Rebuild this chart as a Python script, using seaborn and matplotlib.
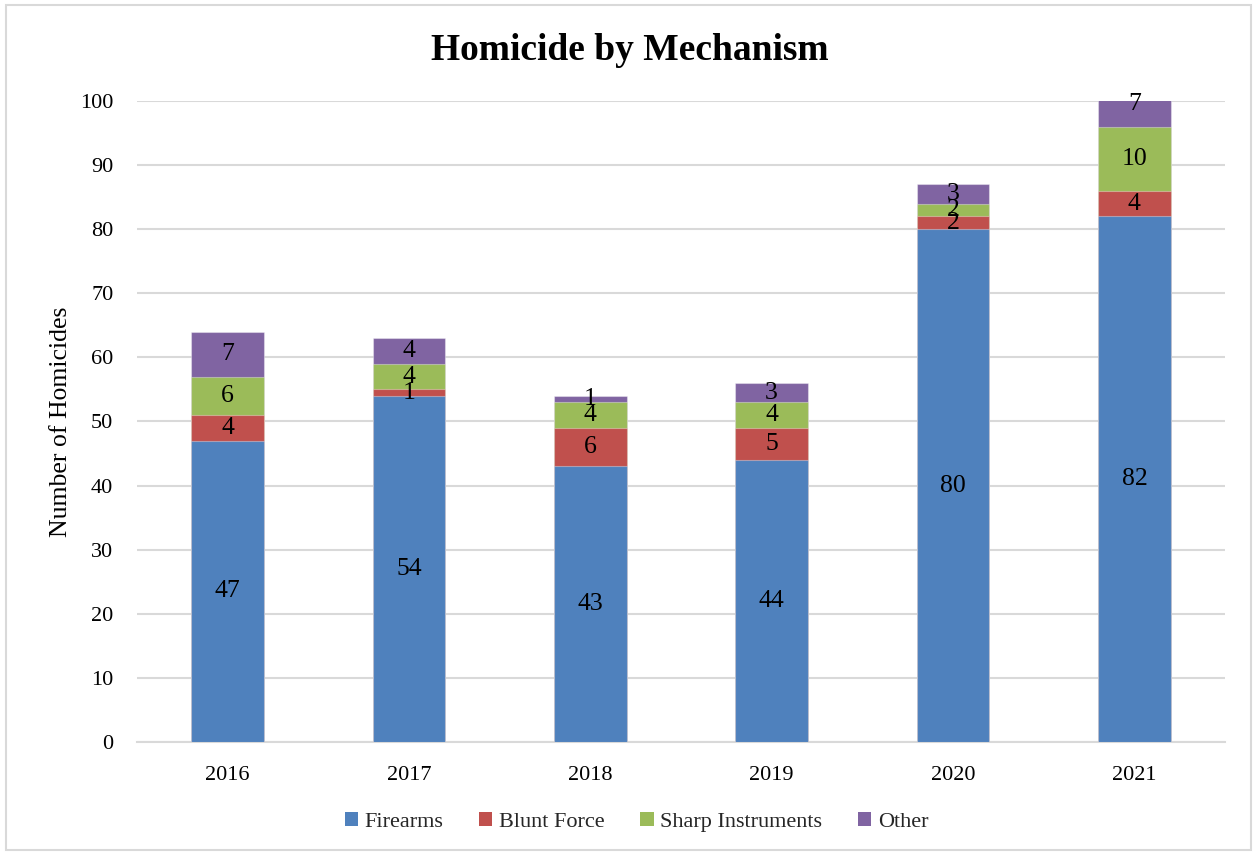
import numpy as np
import pandas as pd
import matplotlib
matplotlib.use("Agg")
import matplotlib.pyplot as plt
from matplotlib.patches import Rectangle, Patch
import seaborn as sns

years = ["2016", "2017", "2018", "2019", "2020", "2021"]
firearms = [47, 54, 43, 44, 80, 82]
blunt_force = [4, 1, 6, 5, 2, 4]
sharp_instruments = [6, 4, 4, 4, 2, 10]
other = [7, 4, 1, 3, 3, 7]

mechanisms = ["Firearms", "Blunt Force", "Sharp Instruments", "Other"]
colors = ["#4F81BD", "#C0504D", "#9BBB59", "#8064A2"]

sns.set_theme(style="white")
plt.rcParams["font.family"] = ["Liberation Serif", "DejaVu Serif"]

series = [firearms, blunt_force, sharp_instruments, other]
df = pd.DataFrame({"Year": years})
for name, vals in zip(mechanisms, series):
    df[name] = vals
cum = df[mechanisms].cumsum(axis=1)

fig = plt.figure(figsize=(12.53, 8.56), dpi=100)
ax = fig.add_axes([0.1093, 0.1332, 0.8684, 0.7488])

# stacked bars: draw the cumulative totals from the top layer down
for name, color in reversed(list(zip(mechanisms, colors))):
    sns.barplot(data=pd.DataFrame({"Year": years, "v": cum[name]}), x="Year", y="v",
                color=color, width=0.4, saturation=1, ax=ax, zorder=3,
                edgecolor=(1, 1, 1, 0.35), linewidth=0.8)

# value labels centred in each segment
for i in range(len(years)):
    base = 0
    for name in mechanisms:
        v = df.loc[i, name]
        ax.text(i, base + v / 2, str(v), ha="center", va="center",
                fontsize=18.5, color="black", zorder=5)
        base += v

ax.set_ylim(0, 100)
ax.set_xlim(-0.5, 5.5)
ax.set_yticks(range(0, 101, 10))
ax.yaxis.grid(True, color="#D9D9D9", linewidth=1.5, zorder=0)
ax.set_axisbelow(True)
for s in ["top", "right", "left"]:
    ax.spines[s].set_visible(False)
ax.spines["bottom"].set_color("#D9D9D9")
ax.spines["bottom"].set_linewidth(1.5)
ax.tick_params(axis="both", length=0, labelsize=16, colors="black")
ax.tick_params(axis="y", pad=17)
ax.tick_params(axis="x", pad=17)
ax.set_xlabel("")
ax.set_ylabel("Number of Homicides", fontsize=18.5, labelpad=5.5, color="black")

fig.suptitle("Homicide by Mechanism", x=0.503, y=1 - 50 / 856, va="center",
             fontsize=27, fontweight="bold", color="black")

handles = [Patch(facecolor=c, edgecolor="none") for c in colors]
fig.legend(handles, mechanisms, loc="center", bbox_to_anchor=(0.508, 0.04), ncol=4,
           frameon=False, fontsize=16, handlelength=0.6, handleheight=0.6,
           handletextpad=0.3, columnspacing=1.6)

fig.patches.append(Rectangle((6 / 1253, 6 / 856), 1 - 8 / 1253, 1 - 11 / 856,
                             transform=fig.transFigure, fill=False,
                             edgecolor="#D9D9D9", linewidth=1.5))

fig.savefig("out.png", dpi=100, facecolor="white")
